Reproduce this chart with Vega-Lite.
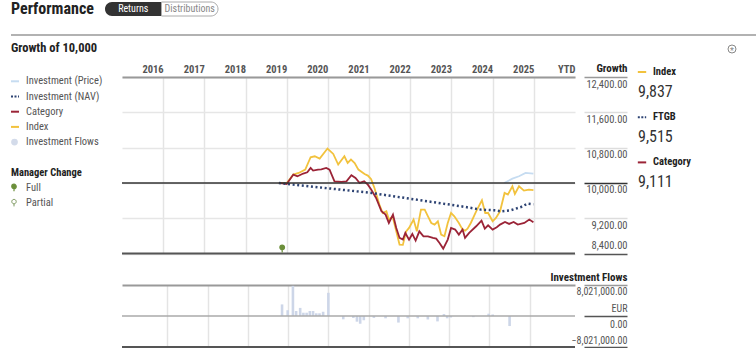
{
  "$schema": "https://vega.github.io/schema/vega-lite/v6.json",
  "background": "white",
  "padding": {"left": 7, "top": 1, "right": 0, "bottom": 0},
  "config": {
    "view": {"stroke": null},
    "font": "Liberation Sans Narrow, Roboto Condensed, DejaVu Sans Condensed, sans-serif",
    "axis": {"labelOverlap": false, "labelFont": "Liberation Sans Narrow, Roboto Condensed, DejaVu Sans Condensed, sans-serif", "titleFont": "Liberation Sans Narrow, Roboto Condensed, DejaVu Sans Condensed, sans-serif"},
    "title": {"font": "Liberation Sans Narrow, Roboto Condensed, DejaVu Sans Condensed, sans-serif"}
  },
  "datasets": {
    "pageTitle": [{"label": "Performance"}],
    "tabs": [{"tab": "Returns"}, {"tab": "Distributions"}],
    "divider": [{"pos": 0}],
    "heading": [{"label": "Growth of 10,000"}],
    "growth": [
      {"t": 2025.28, "v": 10000, "series": "Investment (Price)"},
      {"t": 2025.48, "v": 10098, "series": "Investment (Price)"},
      {"t": 2025.64, "v": 10152, "series": "Investment (Price)"},
      {"t": 2025.80, "v": 10227, "series": "Investment (Price)"},
      {"t": 2025.99, "v": 10213, "series": "Investment (Price)"},
      {"t": 2019.81, "v": 10000, "series": "Index"},
      {"t": 2020.0, "v": 10000, "series": "Index"},
      {"t": 2020.16, "v": 10190, "series": "Index"},
      {"t": 2020.29, "v": 10227, "series": "Index"},
      {"t": 2020.45, "v": 10303, "series": "Index"},
      {"t": 2020.58, "v": 10582, "series": "Index"},
      {"t": 2020.68, "v": 10604, "series": "Index"},
      {"t": 2020.80, "v": 10552, "series": "Index"},
      {"t": 2020.99, "v": 10779, "series": "Index"},
      {"t": 2021.13, "v": 10657, "series": "Index"},
      {"t": 2021.25, "v": 10416, "series": "Index"},
      {"t": 2021.40, "v": 10604, "series": "Index"},
      {"t": 2021.48, "v": 10453, "series": "Index"},
      {"t": 2021.56, "v": 10529, "series": "Index"},
      {"t": 2021.65, "v": 10453, "series": "Index"},
      {"t": 2021.74, "v": 10303, "series": "Index"},
      {"t": 2021.89, "v": 10204, "series": "Index"},
      {"t": 2021.97, "v": 10167, "series": "Index"},
      {"t": 2022.05, "v": 10085, "series": "Index"},
      {"t": 2022.13, "v": 9887, "series": "Index"},
      {"t": 2022.25, "v": 9510, "series": "Index"},
      {"t": 2022.33, "v": 9320, "series": "Index"},
      {"t": 2022.42, "v": 9358, "series": "Index"},
      {"t": 2022.48, "v": 9170, "series": "Index"},
      {"t": 2022.57, "v": 9245, "series": "Index"},
      {"t": 2022.66, "v": 8905, "series": "Index"},
      {"t": 2022.74, "v": 8604, "series": "Index"},
      {"t": 2022.82, "v": 8597, "series": "Index"},
      {"t": 2022.90, "v": 8905, "series": "Index"},
      {"t": 2022.97, "v": 8981, "series": "Index"},
      {"t": 2023.08, "v": 9170, "series": "Index"},
      {"t": 2023.16, "v": 8905, "series": "Index"},
      {"t": 2023.26, "v": 9396, "series": "Index"},
      {"t": 2023.35, "v": 9396, "series": "Index"},
      {"t": 2023.43, "v": 9245, "series": "Index"},
      {"t": 2023.51, "v": 9094, "series": "Index"},
      {"t": 2023.59, "v": 9057, "series": "Index"},
      {"t": 2023.67, "v": 9132, "series": "Index"},
      {"t": 2023.75, "v": 8830, "series": "Index"},
      {"t": 2023.83, "v": 8792, "series": "Index"},
      {"t": 2023.91, "v": 9094, "series": "Index"},
      {"t": 2023.99, "v": 9320, "series": "Index"},
      {"t": 2024.07, "v": 9245, "series": "Index"},
      {"t": 2024.18, "v": 9094, "series": "Index"},
      {"t": 2024.27, "v": 8944, "series": "Index"},
      {"t": 2024.33, "v": 8921, "series": "Index"},
      {"t": 2024.39, "v": 8966, "series": "Index"},
      {"t": 2024.47, "v": 9094, "series": "Index"},
      {"t": 2024.60, "v": 9358, "series": "Index"},
      {"t": 2024.74, "v": 9608, "series": "Index"},
      {"t": 2024.82, "v": 9320, "series": "Index"},
      {"t": 2024.89, "v": 9320, "series": "Index"},
      {"t": 2025.0, "v": 9132, "series": "Index"},
      {"t": 2025.08, "v": 9207, "series": "Index"},
      {"t": 2025.18, "v": 9358, "series": "Index"},
      {"t": 2025.29, "v": 9774, "series": "Index"},
      {"t": 2025.37, "v": 9736, "series": "Index"},
      {"t": 2025.48, "v": 9925, "series": "Index"},
      {"t": 2025.54, "v": 9751, "series": "Index"},
      {"t": 2025.64, "v": 9925, "series": "Index"},
      {"t": 2025.76, "v": 9827, "series": "Index"},
      {"t": 2025.88, "v": 9850, "series": "Index"},
      {"t": 2025.99, "v": 9837, "series": "Index"},
      {"t": 2019.81, "v": 10000, "series": "Category"},
      {"t": 2020.0, "v": 9977, "series": "Category"},
      {"t": 2020.16, "v": 10190, "series": "Category"},
      {"t": 2020.26, "v": 10152, "series": "Category"},
      {"t": 2020.40, "v": 10213, "series": "Category"},
      {"t": 2020.50, "v": 10242, "series": "Category"},
      {"t": 2020.58, "v": 10340, "series": "Category"},
      {"t": 2020.64, "v": 10280, "series": "Category"},
      {"t": 2020.76, "v": 10303, "series": "Category"},
      {"t": 2020.84, "v": 10310, "series": "Category"},
      {"t": 2020.96, "v": 10340, "series": "Category"},
      {"t": 2021.04, "v": 10303, "series": "Category"},
      {"t": 2021.16, "v": 10038, "series": "Category"},
      {"t": 2021.33, "v": 10023, "series": "Category"},
      {"t": 2021.45, "v": 10038, "series": "Category"},
      {"t": 2021.57, "v": 10174, "series": "Category"},
      {"t": 2021.67, "v": 10113, "series": "Category"},
      {"t": 2021.77, "v": 10000, "series": "Category"},
      {"t": 2021.88, "v": 10038, "series": "Category"},
      {"t": 2021.97, "v": 9962, "series": "Category"},
      {"t": 2022.05, "v": 9850, "series": "Category"},
      {"t": 2022.17, "v": 9660, "series": "Category"},
      {"t": 2022.30, "v": 9358, "series": "Category"},
      {"t": 2022.40, "v": 9283, "series": "Category"},
      {"t": 2022.48, "v": 9094, "series": "Category"},
      {"t": 2022.58, "v": 9283, "series": "Category"},
      {"t": 2022.66, "v": 8981, "series": "Category"},
      {"t": 2022.74, "v": 8755, "series": "Category"},
      {"t": 2022.82, "v": 8717, "series": "Category"},
      {"t": 2022.88, "v": 8868, "series": "Category"},
      {"t": 2022.97, "v": 8717, "series": "Category"},
      {"t": 2023.05, "v": 8845, "series": "Category"},
      {"t": 2023.13, "v": 8694, "series": "Category"},
      {"t": 2023.22, "v": 8905, "series": "Category"},
      {"t": 2023.32, "v": 8792, "series": "Category"},
      {"t": 2023.43, "v": 8792, "series": "Category"},
      {"t": 2023.55, "v": 8755, "series": "Category"},
      {"t": 2023.63, "v": 8740, "series": "Category"},
      {"t": 2023.71, "v": 8641, "series": "Category"},
      {"t": 2023.80, "v": 8513, "series": "Category"},
      {"t": 2023.91, "v": 8717, "series": "Category"},
      {"t": 2023.99, "v": 8981, "series": "Category"},
      {"t": 2024.09, "v": 8944, "series": "Category"},
      {"t": 2024.18, "v": 8830, "series": "Category"},
      {"t": 2024.27, "v": 8944, "series": "Category"},
      {"t": 2024.33, "v": 8755, "series": "Category"},
      {"t": 2024.43, "v": 8868, "series": "Category"},
      {"t": 2024.60, "v": 9019, "series": "Category"},
      {"t": 2024.73, "v": 9147, "series": "Category"},
      {"t": 2024.81, "v": 8966, "series": "Category"},
      {"t": 2024.89, "v": 9042, "series": "Category"},
      {"t": 2025.0, "v": 8944, "series": "Category"},
      {"t": 2025.10, "v": 8996, "series": "Category"},
      {"t": 2025.18, "v": 9057, "series": "Category"},
      {"t": 2025.30, "v": 9117, "series": "Category"},
      {"t": 2025.40, "v": 9072, "series": "Category"},
      {"t": 2025.51, "v": 9117, "series": "Category"},
      {"t": 2025.61, "v": 9057, "series": "Category"},
      {"t": 2025.77, "v": 9094, "series": "Category"},
      {"t": 2025.89, "v": 9170, "series": "Category"},
      {"t": 2025.99, "v": 9111, "series": "Category"},
      {"t": 2019.81, "v": 10000, "series": "Investment (NAV)"},
      {"t": 2022.05, "v": 9774, "series": "Investment (NAV)"},
      {"t": 2024.23, "v": 9472, "series": "Investment (NAV)"},
      {"t": 2024.72, "v": 9396, "series": "Investment (NAV)"},
      {"t": 2025.04, "v": 9381, "series": "Investment (NAV)"},
      {"t": 2025.20, "v": 9358, "series": "Investment (NAV)"},
      {"t": 2025.44, "v": 9381, "series": "Investment (NAV)"},
      {"t": 2025.69, "v": 9456, "series": "Investment (NAV)"},
      {"t": 2025.85, "v": 9532, "series": "Investment (NAV)"},
      {"t": 2025.99, "v": 9515, "series": "Investment (NAV)"}
    ],
    "refs": [{"v": 10000, "kind": "base"}, {"v": 8400, "kind": "floor"}],
    "managers": [{"t": 2019.89, "type": "Full"}],
    "flows": [
      {"t": 2019.85, "f": 3000000}, {"t": 2019.99, "f": 1500000}, {"t": 2020.12, "f": 7800000},
      {"t": 2020.20, "f": 1300000}, {"t": 2020.30, "f": 2100000}, {"t": 2020.38, "f": 850000},
      {"t": 2020.46, "f": 850000}, {"t": 2020.54, "f": 1300000}, {"t": 2020.62, "f": 1300000},
      {"t": 2020.70, "f": 700000}, {"t": 2020.78, "f": 700000}, {"t": 2020.87, "f": 1100000},
      {"t": 2021.00, "f": 6000000}, {"t": 2021.37, "f": -860000}, {"t": 2021.62, "f": -500000},
      {"t": 2021.71, "f": -1470000}, {"t": 2021.79, "f": -2000000}, {"t": 2021.88, "f": -1100000},
      {"t": 2022.13, "f": -500000}, {"t": 2022.42, "f": -600000}, {"t": 2022.74, "f": -1700000},
      {"t": 2022.97, "f": -600000}, {"t": 2023.22, "f": -600000}, {"t": 2023.47, "f": -900000},
      {"t": 2023.71, "f": -1400000}, {"t": 2023.87, "f": 500000}, {"t": 2023.95, "f": -600000},
      {"t": 2024.04, "f": -400000}, {"t": 2024.60, "f": -300000}, {"t": 2024.98, "f": 600000},
      {"t": 2025.08, "f": 400000}, {"t": 2025.50, "f": -2600000}
    ],
    "flowRefs": [{"f": 0, "kind": "zero"}, {"f": -8021000, "kind": "floor"}],
    "legendLeft": [
      {"item": "Investment (Price)", "kind": "line"},
      {"item": "Investment (NAV)", "kind": "dotted"},
      {"item": "Category", "kind": "line"},
      {"item": "Index", "kind": "line"},
      {"item": "Investment Flows", "kind": "circle"},
      {"item": "Manager Change", "kind": "heading"},
      {"item": "Full", "kind": "pin"},
      {"item": "Partial", "kind": "pinHollow"}
    ],
    "legendRight": [
      {"series": "Index", "value": 9837},
      {"series": "FTGB", "value": 9515},
      {"series": "Category", "value": 9111}
    ]
  },
  "spacing": 0,
  "vconcat": [
    {
      "spacing": 11,
      "hconcat": [
        {
          "width": 83,
          "height": 14,
          "data": {"name": "pageTitle"},
          "mark": {"type": "text", "align": "left", "fontSize": 16, "fontWeight": "bold", "color": "#222"},
          "encoding": {"x": {"datum": 0, "type": "quantitative", "scale": {"domain": [0, 1]}, "axis": null}, "text": {"field": "label"}}
        },
        {
          "width": 113,
          "height": 14,
          "data": {"name": "tabs"},
          "encoding": {"x": {"field": "tab", "type": "nominal", "scale": {"domain": ["Returns", "Distributions"], "paddingInner": 0, "paddingOuter": 0}, "axis": null}},
          "layer": [
            {"transform": [{"filter": "datum.tab == 'Returns'"}], "mark": {"type": "bar", "color": "#333", "cornerRadiusTopLeft": 7, "cornerRadiusBottomLeft": 7}},
            {"transform": [{"filter": "datum.tab == 'Distributions'"}], "mark": {"type": "bar", "fill": "white", "stroke": "#aaa", "strokeWidth": 1, "cornerRadiusTopRight": 7, "cornerRadiusBottomRight": 7}},
            {"transform": [{"filter": "datum.tab == 'Returns'"}], "mark": {"type": "text", "fontSize": 10, "color": "white"}, "encoding": {"text": {"field": "tab"}}},
            {"transform": [{"filter": "datum.tab == 'Distributions'"}], "mark": {"type": "text", "fontSize": 10, "color": "#888"}, "encoding": {"text": {"field": "tab"}}}
          ]
        }
      ]
    },
    {
      "width": 746,
      "height": 18,
      "data": {"name": "divider"},
      "mark": {"type": "rule", "color": "#999", "strokeWidth": 1.5},
      "encoding": {"y": {"field": "pos", "type": "quantitative", "scale": {"domain": [0, 1]}, "axis": null}}
    },
    {
      "width": 746,
      "height": 26,
      "data": {"name": "heading"},
      "encoding": {"x": {"datum": 0, "type": "quantitative", "scale": {"domain": [0, 1]}, "axis": null}},
      "layer": [
        {"mark": {"type": "text", "align": "left", "fontSize": 12.5, "fontWeight": "bold", "color": "#222", "dy": -1.5},
         "encoding": {"text": {"field": "label"}}},
        {"mark": {"type": "point", "shape": "circle", "filled": false, "size": 64, "color": "#888", "strokeWidth": 1, "opacity": 1, "xOffset": 721},
         "encoding": {}},
        {"mark": {"type": "text", "text": "*", "fontSize": 9, "color": "#888", "dx": 721, "dy": 1.5},
         "encoding": {}}
      ]
    },
    {
      "spacing": 5,
      "hconcat": [
        {
          "width": 105,
          "height": {"step": 15.2},
          "data": {"name": "legendLeft"},
          "encoding": {
            "y": {"field": "item", "type": "nominal", "scale": {"type": "point", "domain": ["Investment (Price)", "Investment (NAV)", "Category", "Index", "Investment Flows", "_gap", "Manager Change", "Full", "Partial"], "padding": 0.283}, "axis": null},
            "x": {"datum": 0, "type": "quantitative", "scale": {"domain": [0, 1]}, "axis": null}
          },
          "layer": [
            {"transform": [{"filter": "datum.item == 'Investment (Price)'"}], "mark": {"type": "point", "shape": "stroke", "filled": false, "size": 64, "strokeWidth": 2, "opacity": 1, "color": "#c6dcf1", "xOffset": 4}},
            {"transform": [{"filter": "datum.item == 'Investment (NAV)'"}], "mark": {"type": "point", "shape": "stroke", "filled": false, "size": 64, "strokeWidth": 2, "opacity": 1, "color": "#2d4373", "strokeDash": [2, 1.5], "xOffset": 4}},
            {"transform": [{"filter": "datum.item == 'Category'"}], "mark": {"type": "point", "shape": "stroke", "filled": false, "size": 64, "strokeWidth": 2, "opacity": 1, "color": "#9b2437", "xOffset": 4}},
            {"transform": [{"filter": "datum.item == 'Index'"}], "mark": {"type": "point", "shape": "stroke", "filled": false, "size": 64, "strokeWidth": 2, "opacity": 1, "color": "#f2c23d", "xOffset": 4}},
            {"transform": [{"filter": "datum.kind == 'circle'"}], "mark": {"type": "point", "shape": "circle", "filled": true, "size": 45, "opacity": 1, "color": "#d3dbea", "xOffset": 3.5}},
            {"transform": [{"filter": "datum.kind == 'pin'"}], "mark": {"type": "point", "shape": "M-0.6,-0.35A0.6,0.6 0 1,1 0.6,-0.35A0.6,0.6 0 1,1 -0.6,-0.35Z M0,0.25L0,0.95", "filled": true, "size": 55, "opacity": 1, "fill": "#6b8f3a", "stroke": "#6b8f3a", "strokeWidth": 1.2, "xOffset": 3}},
            {"transform": [{"filter": "datum.kind == 'pinHollow'"}], "mark": {"type": "point", "shape": "M-0.6,-0.35A0.6,0.6 0 1,1 0.6,-0.35A0.6,0.6 0 1,1 -0.6,-0.35Z M0,0.25L0,0.95", "filled": true, "size": 55, "opacity": 1, "fill": "white", "stroke": "#7f9a62", "strokeWidth": 1, "xOffset": 3}},
            {"transform": [{"filter": "datum.kind == 'heading'"}], "mark": {"type": "text", "align": "left", "fontSize": 10.5, "fontWeight": "bold", "color": "#222"}, "encoding": {"text": {"field": "item"}}},
            {"transform": [{"filter": "datum.kind != 'heading'"}], "mark": {"type": "text", "align": "left", "dx": 15, "fontSize": 10.5, "color": "#555"}, "encoding": {"text": {"field": "item"}}}
          ]
        },
        {
          "spacing": 16,
          "vconcat": [
            {
              "width": 453,
              "height": 176.6,
              "layer": [
                {
                  "data": {"name": "growth"},
                  "transform": [{"filter": "datum.series != 'Investment (NAV)'"}],
                  "mark": {"type": "line", "strokeWidth": 1.8},
                  "encoding": {
                    "x": {"field": "t", "type": "quantitative", "scale": {"domain": [2016, 2027], "nice": false, "zero": false},
                      "axis": {"orient": "top", "values": [2017, 2018, 2019, 2020, 2021, 2022, 2023, 2024, 2025, 2026, 2027], "tickCount": 30,
                        "labelExpr": "datum.value == 2027 ? 'YTD' : '' + (datum.value - 1)",
                        "labelAlign": "right", "labelBaseline": "bottom", "labelPadding": 3, "labelFlush": false, "labelOverlap": false,
                        "ticks": false, "tickSize": 0, "domainColor": "#999", "domainWidth": 2,
                        "grid": true, "gridColor": "#e4e4e4", "gridWidth": 1.5,
                        "gridOpacity": {"condition": {"test": "datum.value == 2027", "value": 0}, "value": 1},
                        "labelFontWeight": "bold", "labelColor": "#555", "labelFontSize": 10.5, "title": null}},
                    "y": {"field": "v", "type": "quantitative", "scale": {"domain": [8400, 12400], "nice": false, "zero": false},
                      "axis": {"orient": "right", "values": [8400, 9200, 10000, 10800, 11600, 12400], "tickCount": 30, "format": ",.2f",
                        "offset": 9, "tickSize": 43, "tickWidth": 1.5,
                        "tickColor": {"condition": [{"test": "datum.value == 10000", "value": "#333"}, {"test": "datum.value == 8400", "value": "#555"}, {"test": "datum.value == 12400", "value": "#999"}], "value": "#ddd"},
                        "domain": false, "grid": true, "gridColor": "#e6e6e6", "gridWidth": 1.5,
                        "labelAlign": "right", "labelPadding": 0, "labelOverlap": false, "labelFlush": false,
                        "labelBaseline": {"condition": {"test": "datum.value == 8400", "value": "bottom"}, "value": "top"},
                        "labelOffset": {"condition": {"test": "datum.value == 8400", "value": -3}, "value": 2},
                        "labelColor": "#555", "labelFontSize": 10.5,
                        "title": "Growth", "titleAngle": 0, "titleAlign": "right", "titleBaseline": "bottom", "titleX": 43, "titleY": -4,
                        "titleFontWeight": "bold", "titleFontSize": 11, "titleColor": "#222"}},
                    "color": {"field": "series", "type": "nominal", "scale": {"domain": ["Investment (Price)", "Index", "Category"], "range": ["#c6dcf1", "#f2c23d", "#9b2437"]}, "legend": null}
                  }
                },
                {
                  "data": {"name": "growth"},
                  "transform": [{"filter": "datum.series == 'Investment (NAV)'"}],
                  "mark": {"type": "line", "strokeWidth": 2.5, "strokeDash": [2, 2.6], "color": "#2d4373"},
                  "encoding": {"x": {"field": "t", "type": "quantitative"}, "y": {"field": "v", "type": "quantitative"}}
                },
                {"data": {"name": "refs"}, "transform": [{"filter": "datum.kind == 'base'"}], "mark": {"type": "rule", "color": "#333", "strokeWidth": 1.5}, "encoding": {"y": {"field": "v", "type": "quantitative"}}},
                {"data": {"name": "refs"}, "transform": [{"filter": "datum.kind == 'floor'"}], "mark": {"type": "rule", "color": "#555", "strokeWidth": 2}, "encoding": {"y": {"field": "v", "type": "quantitative"}}},
                {
                  "data": {"name": "managers"},
                  "mark": {"type": "point", "shape": "M-0.6,-1.35A0.6,0.6 0 1,1 0.6,-1.35A0.6,0.6 0 1,1 -0.6,-1.35Z M0,-0.75L0,0", "size": 60, "filled": true, "fill": "#6b8f3a", "stroke": "#6b8f3a", "strokeWidth": 1.2, "opacity": 1, "yOffset": -1},
                  "encoding": {"x": {"field": "t", "type": "quantitative"}, "y": {"datum": 8400, "type": "quantitative"}}
                }
              ]
            },
            {
              "width": 453,
              "height": 62,
              "layer": [
                {
                  "data": {"name": "flows"},
                  "mark": {"type": "bar", "size": 2.6, "color": "#cdd6e8"},
                  "encoding": {
                    "x": {"field": "t", "type": "quantitative", "scale": {"domain": [2016, 2027], "nice": false, "zero": false},
                      "axis": {"orient": "top", "values": [2017, 2018, 2019, 2020, 2021, 2022, 2023, 2024, 2025, 2026], "tickCount": 30, "labels": false, "ticks": false, "tickSize": 0,
                        "domainColor": "#999", "domainWidth": 2, "grid": true, "gridColor": "#e4e4e4", "gridWidth": 1.5, "title": null}},
                    "y": {"field": "f", "type": "quantitative", "scale": {"domain": [-8021000, 8021000], "nice": false},
                      "axis": {"orient": "right", "values": [-8021000, 0, 8021000], "tickCount": 30,
                        "labelExpr": "datum.value == 0 ? ['EUR', '0.00'] : format(datum.value, ',.2f')",
                        "offset": 9, "tickSize": 43, "tickWidth": 1.5,
                        "tickColor": {"condition": {"test": "datum.value == 8021000", "value": "#999"}, "value": "#555"},
                        "domain": false, "grid": false, "labelAlign": "right", "labelPadding": 0, "labelLineHeight": 16, "labelOverlap": false, "labelFlush": false,
                        "labelBaseline": {"condition": [{"test": "datum.value == 0", "value": "middle"}, {"test": "datum.value < 0", "value": "bottom"}], "value": "top"},
                        "labelOffset": {"condition": [{"test": "datum.value == 0", "value": -8}, {"test": "datum.value < 0", "value": -2}], "value": 1},
                        "labelColor": "#555", "labelFontSize": 10,
                        "title": "Investment Flows", "titleAngle": 0, "titleAlign": "right", "titleBaseline": "bottom", "titleX": 43, "titleY": -3,
                        "titleFontWeight": "bold", "titleFontSize": 11, "titleColor": "#222"}}
                  }
                },
                {"data": {"name": "flowRefs"}, "transform": [{"filter": "datum.kind == 'zero'"}], "mark": {"type": "rule", "color": "#aaa", "strokeWidth": 1.5}, "encoding": {"y": {"field": "f", "type": "quantitative"}}},
                {"data": {"name": "flowRefs"}, "transform": [{"filter": "datum.kind == 'floor'"}], "mark": {"type": "rule", "color": "#555", "strokeWidth": 2}, "encoding": {"y": {"field": "f", "type": "quantitative"}}}
              ]
            }
          ]
        },
        {
          "width": 110,
          "height": {"step": 45.2},
          "data": {"name": "legendRight"},
          "encoding": {
            "y": {"field": "series", "type": "nominal", "scale": {"type": "point", "domain": ["Index", "FTGB", "Category"], "padding": 0}, "axis": null},
            "x": {"datum": 0, "type": "quantitative", "scale": {"domain": [0, 1]}, "axis": null}
          },
          "layer": [
            {"transform": [{"filter": "datum.series == 'Index'"}], "mark": {"type": "point", "shape": "stroke", "filled": false, "size": 70, "strokeWidth": 2, "opacity": 1, "color": "#f2c23d", "xOffset": 4, "yOffset": -5}},
            {"transform": [{"filter": "datum.series == 'FTGB'"}], "mark": {"type": "point", "shape": "stroke", "filled": false, "size": 70, "strokeWidth": 2, "opacity": 1, "color": "#2d4373", "strokeDash": [2, 1.5], "xOffset": 4, "yOffset": -5}},
            {"transform": [{"filter": "datum.series == 'Category'"}], "mark": {"type": "point", "shape": "stroke", "filled": false, "size": 70, "strokeWidth": 2, "opacity": 1, "color": "#9b2437", "xOffset": 4, "yOffset": -5}},
            {"mark": {"type": "text", "align": "left", "dx": 15, "dy": -5, "fontSize": 10.5, "fontWeight": "bold", "color": "#222"}, "encoding": {"text": {"field": "series"}}},
            {"mark": {"type": "text", "align": "left", "dx": 0, "dy": 15, "fontSize": 16, "color": "#333"}, "encoding": {"text": {"field": "value", "type": "quantitative", "format": ","}}}
          ]
        }
      ]
    }
  ]
}
